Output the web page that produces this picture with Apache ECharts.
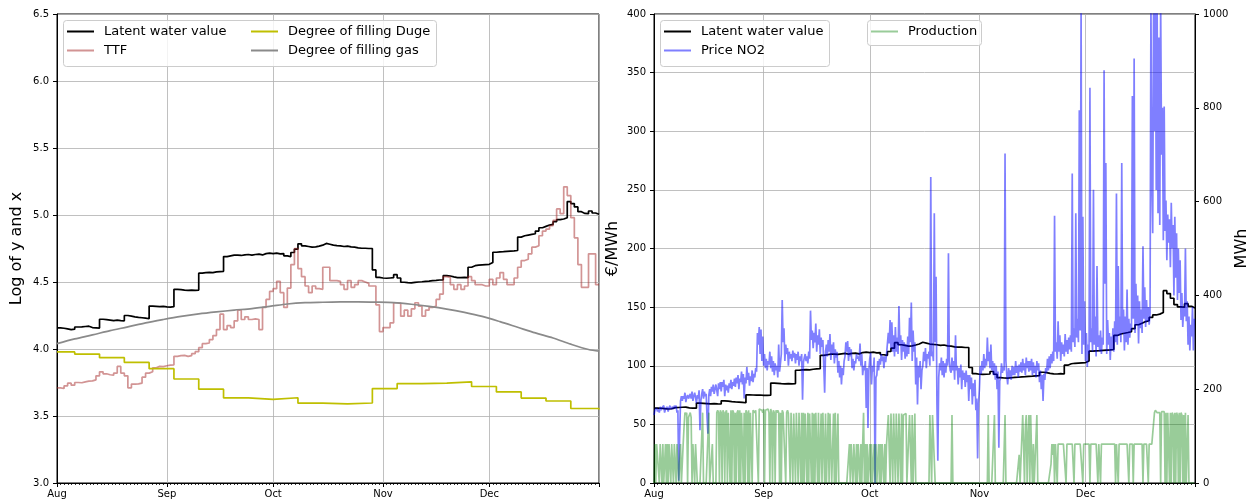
<!DOCTYPE html>
<html>
<head>
<meta charset="utf-8">
<script src="https://cdn.jsdelivr.net/npm/echarts@6/dist/echarts.min.js"></script>
<style>
  html, body { margin: 0; padding: 0; background: #fff; }
  #chart { width: 1253px; height: 503px; }
</style>
</head>
<body>
<div id="chart"></div>
<script>
// Month names used for the time-axis tick labels
const monthNames = ['Jan', 'Feb', 'Mar', 'Apr', 'May', 'Jun', 'Jul', 'Aug', 'Sep', 'Oct', 'Nov', 'Dec'];

// Latent water value, log(€/MWh), one value per day from 1 Aug
const latentLog = [
  4.157, 4.155, 4.150, 4.145, 4.148, 4.164, 4.165, 4.168, 4.170, 4.160, 4.158, 4.156,
  4.222, 4.219, 4.216, 4.212, 4.215, 4.212, 4.210,
  4.250, 4.245, 4.240, 4.236, 4.233, 4.230, 4.226,
  4.320, 4.318, 4.316, 4.318, 4.315, 4.313, 4.316,
  4.445, 4.443, 4.440, 4.438, 4.440, 4.437, 4.440,
  4.566, 4.570, 4.572, 4.570, 4.575, 4.578, 4.580,
  4.690, 4.695, 4.700, 4.700, 4.698, 4.702, 4.705, 4.700, 4.705, 4.708, 4.702, 4.712, 4.715, 4.712,
  4.715, 4.710, 4.712, 4.695, 4.690, 4.720, 4.745,
  4.785, 4.770, 4.765, 4.760, 4.762, 4.768, 4.775, 4.788, 4.782, 4.775, 4.772, 4.770, 4.765, 4.768,
  4.762, 4.760, 4.755, 4.752, 4.752, 4.750, 4.750,
  4.590, 4.535, 4.530, 4.528, 4.530, 4.532, 4.555, 4.530,
  4.498, 4.495, 4.493, 4.497, 4.500, 4.502,
  4.505, 4.507, 4.510, 4.512, 4.515, 4.516,
  4.548, 4.545, 4.538, 4.533, 4.532, 4.535, 4.532,
  4.610, 4.622, 4.626, 4.628, 4.630, 4.632, 4.645,
  4.722, 4.725, 4.726, 4.728, 4.730, 4.732, 4.735,
  4.835, 4.845, 4.850, 4.855, 4.860, 4.880,
  4.905, 4.915, 4.925, 4.930, 4.950, 4.965, 4.970, 4.980,
  5.100, 5.085, 5.060, 5.025, 5.012, 5.010, 5.030, 5.015, 5.005
];

// TTF gas price, log(€/MWh), one value per day from 1 Aug
const ttfLog = [
  3.710, 3.705, 3.725, 3.745, 3.730, 3.750, 3.748, 3.755, 3.760, 3.762,
  3.770, 3.800, 3.830, 3.815, 3.808, 3.805, 3.820, 3.870, 3.820, 3.800,
  3.710, 3.738, 3.740, 3.745, 3.790, 3.820, 3.830, 3.860, 3.870, 3.868,
  3.875, 3.880, 3.882, 3.945, 3.950, 3.952, 3.945, 3.950, 3.965, 3.980,
  4.010, 4.040, 4.045, 4.070, 4.100, 4.145, 4.260, 4.145, 4.175, 4.160,
  4.210, 4.290, 4.220, 4.240, 4.220, 4.225, 4.220, 4.145, 4.310, 4.370,
  4.430, 4.450, 4.505, 4.420, 4.310, 4.455, 4.630, 4.750, 4.600, 4.540,
  4.470, 4.420, 4.470, 4.450, 4.445, 4.610, 4.610, 4.510, 4.510, 4.505,
  4.480, 4.445, 4.510, 4.460, 4.480, 4.510, 4.500, 4.490, 4.470, 4.470,
  4.330, 4.130, 4.160, 4.160, 4.195, 4.345, 4.340, 4.245, 4.290, 4.245,
  4.300, 4.345, 4.320, 4.245, 4.290, 4.310, 4.320, 4.370, 4.410, 4.540,
  4.535, 4.480, 4.445, 4.480, 4.445, 4.470, 4.540, 4.510, 4.480, 4.480,
  4.470, 4.470, 4.520, 4.480, 4.530, 4.570, 4.520, 4.480, 4.480, 4.530,
  4.610, 4.660, 4.670, 4.710, 4.760, 4.770, 4.845, 4.880, 4.895, 4.920,
  4.960, 5.045, 5.010, 5.210, 5.145, 4.980, 4.830, 4.630, 4.460, 4.460,
  4.710, 4.710, 4.480
];

// Degree of filling Duge, log(%), weekly values; day offsets from 1 Aug
const dugeDays = [0, 5, 12, 19, 26, 33, 40, 47, 54, 61, 68, 75, 82, 89, 96, 103, 110, 117, 124, 131, 138, 145];
const dugeLog = [3.978, 3.962, 3.935, 3.900, 3.853, 3.776, 3.700, 3.635, 3.624, 3.636, 3.596, 3.590,
                 3.597, 3.705, 3.742, 3.746, 3.755, 3.720, 3.680, 3.634, 3.612, 3.556];
const dugeLast = 3.548;

// Degree of filling gas storage, log(%); day offsets from 1 Aug
const gasDays = [0, 5, 10, 15, 20, 25, 30, 35, 40, 45, 50, 55, 60, 65, 70, 75, 80, 85, 90, 95,
                 100, 105, 110, 115, 120, 125, 130, 135, 140, 145, 150, 153];
const gasLog = [4.040, 4.075, 4.105, 4.137, 4.165, 4.195, 4.220, 4.243, 4.262, 4.277, 4.290, 4.302,
                4.318, 4.336, 4.346, 4.349, 4.351, 4.352, 4.350, 4.346, 4.334, 4.318, 4.298, 4.273,
                4.243, 4.204, 4.162, 4.120, 4.082, 4.036, 3.996, 3.984];

// Spot price NO2, €/MWh, four readings per day (00, 06, 12, 18h) from 1 Aug
const priceNO2 = [
  // Aug
  58,62,61,64, 61,63,60,65, 62,64,63,66, 60,63,62,65,
  61,64,66,63, 62,65,63,66, 64,66,60,62, 2,40,70,74,
  70,74,72,77, 69,73,75,72, 71,76,72,78, 70,74,77,73,
  68,75,72,79, 45,70,76,80, 72,78,74,76, 56,42,75,80,
  74,82,78,84, 76,80,84,79, 74,85,80,86, 78,86,82,88,
  74,84,79,83, 77,85,81,88, 80,86,83,89, 82,90,85,92,
  80,89,86,95, 84,93,72,90, 85,99,88,94, 83,91,87,96,
  86,93,90,98, 95,128,118,133, 110,131,104,125,
  // Sep
  100,110,98,106, 96,104,101,112, 98,108,95,104, 92,102,96,100,
  90,118,95,102, 110,156,120,132, 104,118,110,115, 100,112,106,110,
  104,113,107,111, 102,110,105,112, 100,108,104,110, 71,103,107,110,
  104,108,102,112, 106,147,122,130, 115,128,120,136, 112,126,118,131,
  110,124,116,122, 100,77,112,118, 108,122,112,127, 105,118,110,120,
  102,114,107,112, 94,104,90,100, 84,98,92,104, 108,120,112,121,
  104,116,108,114, 98,106,96,104, 102,110,106,108, 104,119,100,110,
  92,100,96,104, 64,98,47,96,
  // Oct
  106,111,84,100, 95,107,0,90, 92,104,96,106, 101,110,104,108,
  98,108,103,110, 110,128,119,139, 115,137,112,126, 108,133,112,124,
  110,151,118,126, 105,122,112,120, 106,118,108,125, 110,141,120,154,
  104,130,112,120, 84,107,67,100, 90,104,80,96, 100,112,104,115,
  98,110,106,112, 100,261,108,112, 104,230,120,176, 67,19,90,102,
  96,107,92,104, 90,102,94,106, 100,196,104,96, 94,107,96,104,
  88,126,96,100, 84,98,90,101, 80,96,88,94, 82,96,86,92,
  70,92,80,90, 67,85,74,88, 62,72,21,68,
  // Nov
  80,100,93,104, 96,110,98,106, 100,124,104,112, 98,118,96,104,
  92,102,88,100, 80,95,30,87, 90,102,94,99, 96,281,104,92,
  84,98,90,96, 88,100,92,99, 92,104,94,100, 90,101,95,103,
  94,106,96,102, 92,107,98,104, 95,104,96,106, 92,103,94,100,
  90,104,96,102, 86,96,80,92, 70,93,88,98, 94,106,96,108,
  98,110,102,112, 104,228,112,120, 106,138,112,126, 104,120,110,118,
  108,127,112,122, 110,124,114,126, 112,264,120,132, 116,230,124,140,
  120,318,130,410, 110,227,118,155,
  // Dec
  104,128,99,118, 110,337,120,132, 112,250,118,142, 108,185,116,126,
  112,130,110,124, 118,352,170,273, 110,139,118,128, 105,125,113,132,
  112,138,120,247, 118,185,126,142, 120,273,128,148, 113,142,120,165,
  118,140,124,136, 130,330,140,362, 128,170,135,160, 119,155,132,148,
  128,202,140,167, 133,156,138,150, 135,145,410,260, 213,410,300,410,
  250,410,230,380, 220,410,280,320, 207,321,215,241, 190,229,205,225,
  184,239,200,220, 160,227,175,213, 156,200,162,190, 139,162,133,150,
  142,200,138,155, 118,142,113,135, 125,150,113,140
];

// Production, MWh, four readings per day (00, 06, 12, 18h) from 1 Aug
const production = [
  // Aug
  0,83,0,83, 83,83,0,83, 83,0,83,0, 0,83,0,83,
  0,83,83,0, 83,83,0,83, 83,0,83,83, 0,0,83,0,
  0,83,120,150, 145,150,0,140, 145,150,140,0, 83,83,0,83,
  83,0,0,0, 0,0,0,150, 0,0,0,0, 0,0,150,0,
  0,0,83,0, 0,0,0,150, 155,150,0,155, 150,0,155,150,
  0,150,155,0, 150,150,0,155, 0,155,150,0, 150,0,150,155,
  0,155,0,150, 150,0,150,0, 155,150,0,155, 0,150,150,0,
  155,158,150,155, 158,155,0,158, 155,158,155,150,
  // Sep
  158,0,155,158, 155,158,150,0, 158,150,0,155, 150,0,155,150,
  155,150,0,150, 0,155,150,148, 150,0,150,155, 148,150,0,150,
  150,0,148,150, 0,150,150,0, 150,148,0,150, 0,150,0,148,
  150,0,150,0, 148,150,0,150, 0,148,0,150, 150,0,150,0,
  0,148,0,150, 150,0,148,0, 0,150,0,148, 150,0,0,148,
  0,150,0,0, 148,0,0,0, 0,0,0,0, 0,0,0,0,
  0,83,0,83, 83,0,83,83, 0,83,0,83, 83,0,83,0,
  83,150,0,83, 0,83,0,0,
  // Oct
  83,0,83,0, 0,83,0,83, 0,0,83,0, 83,0,83,83,
  0,83,0,83, 83,145,148,0, 148,145,0,148, 145,0,148,145,
  0,148,145,0, 148,0,145,148, 145,148,0,0, 0,145,148,0,
  145,0,0,148, 0,0,0,0, 0,0,0,0, 0,0,0,0,
  0,0,0,0, 145,148,0,145, 148,145,0,0, 0,0,0,0,
  0,0,0,0, 0,0,0,0, 0,0,0,0, 0,145,0,0,
  0,0,0,0, 0,0,0,0, 0,0,0,0, 0,0,0,0,
  0,0,0,0, 0,0,0,0, 0,0,0,0,
  // Nov
  0,0,0,0, 0,0,0,0, 0,0,145,0, 0,0,0,0,
  0,145,0,0, 0,0,0,0, 0,0,0,0, 0,145,0,0,
  0,0,0,0, 0,0,0,0, 0,0,0,0, 0,60,0,0,
  0,145,80,0, 120,145,0,100, 145,0,145,60, 0,83,0,0,
  0,145,0,0, 0,0,0,0, 0,0,0,0, 0,0,0,0,
  0,40,83,60, 83,0,83,83, 0,83,83,83, 83,83,83,83,
  83,83,0,83, 83,83,83,83, 83,83,83,0, 83,83,83,83,
  83,83,83,83, 83,0,83,83,
  // Dec
  83,83,83,83, 83,0,83,83, 83,83,83,83, 83,83,0,83,
  83,0,83,83, 83,83,83,83, 83,83,83,83, 83,83,83,83,
  83,83,0,83, 83,0,83,83, 83,83,83,83, 83,83,83,83,
  83,0,83,83, 83,83,0,83, 83,83,83,83, 83,83,83,83,
  83,0,83,83, 83,83,83,0, 83,83,83,83, 83,83,150,155,
  152,150,152,150, 150,0,152,150, 150,152,0,150, 0,150,152,0,
  150,0,150,145, 0,150,0,150, 145,0,150,0, 150,145,0,145,
  0,150,0,0, 145,0,0,0, 0,0,0,0
];

// ---- time helpers ----
const tStart = new Date(2021, 7, 1).getTime();
const tEnd = new Date(2021, 11, 31, 23).getTime();
const at = (day, hour) => new Date(2021, 7, 1 + day, hour || 0).getTime();

// daily step values: each value holds for its whole day
function dailySteps(vals) {
  const pts = vals.map((v, i) => [at(i), v]);
  pts.push([tEnd, vals[vals.length - 1]]);
  return pts;
}
function dayPoints(days, vals) {
  return days.map((d, i) => [at(d), vals[i]]);
}
function sixHourly(vals) {
  return vals.map((v, i) => [at(Math.floor(i / 4), (i % 4) * 6), v]);
}

const FONT = 'DejaVu Sans';
const GRID_COLOR = '#b0b0b0';
const LW = 1.7;

const C_LATENT = '#000000';
const C_TTF = 'rgba(165,42,42,0.5)';
const C_DUGE = '#bfbf00';
const C_GAS = '#8a8a8a';
const C_PRICE = 'rgba(0,0,255,0.5)';
const C_PROD = 'rgba(0,128,0,0.4)';

function lineSeries(name, color, data, xi, yi, extra) {
  return Object.assign({
    name, type: 'line', data,
    xAxisIndex: xi, yAxisIndex: yi,
    symbol: 'none', showSymbol: false,
    lineStyle: { color, width: LW },
    itemStyle: { color },
    emphasis: { disabled: true },
    animation: false
  }, extra || {});
}

function timeAxis(gridIndex) {
  return {
    type: 'time', gridIndex,
    min: tStart, max: tEnd,
    splitNumber: 5,
    minInterval: 28 * 864e5,
    maxInterval: 31 * 864e5,
    axisLine: { show: true, lineStyle: { color: '#000', width: 1 } },
    axisTick: { show: true, length: 4, lineStyle: { color: '#000', width: 1 } },
    minorTick: { show: true, splitNumber: 30, length: 2, lineStyle: { color: '#000', width: 0.8 } },
    axisLabel: {
      fontFamily: FONT, fontSize: 10, color: '#000', margin: 6,
      showMaxLabel: false,
      formatter: (v) => monthNames[new Date(v).getMonth()]
    },
    splitLine: { show: true, lineStyle: { color: GRID_COLOR, width: 0.8 } }
  };
}

function valueAxis(gridIndex, min, max, interval, name, nameGap, labelFmt, opts) {
  return Object.assign({
    type: 'value', gridIndex, min, max, interval,
    name, nameLocation: 'middle', nameGap,
    nameTextStyle: { fontFamily: FONT, fontSize: 16, color: '#000' },
    axisLine: { show: true, lineStyle: { color: '#000', width: 1 } },
    axisTick: { show: true, length: 4, lineStyle: { color: '#000', width: 1 } },
    axisLabel: { fontFamily: FONT, fontSize: 10, color: '#000', margin: 8, formatter: labelFmt },
    splitLine: { show: true, lineStyle: { color: GRID_COLOR, width: 0.8 } }
  }, opts || {});
}

function legendBlock(names, left, top) {
  return {
    data: names, orient: 'vertical', left, top,
    padding: 0, itemGap: 6,
    icon: 'rect', itemWidth: 27, itemHeight: 2,
    selectedMode: false, z: 20,
    textStyle: { fontFamily: FONT, fontSize: 13, color: '#000', padding: [0, 0, 0, 5] }
  };
}

function frame(x, y, w, h) {
  return {
    type: 'rect', z: 10,
    shape: { x: x + 0.5, y: y + 0.5, width: w, height: h, r: 3 },
    style: { fill: 'rgba(255,255,255,0.8)', stroke: '#cccccc', lineWidth: 1 }
  };
}

const chart = echarts.init(document.getElementById('chart'), null, { renderer: 'canvas' });

chart.setOption({
  animation: false,
  backgroundColor: '#ffffff',
  grid: [
    { left: 57, top: 14, width: 542, height: 469, show: true, borderColor: '#000', borderWidth: 1, backgroundColor: 'transparent' },
    { left: 654, top: 14, width: 541, height: 469, show: true, borderColor: '#000', borderWidth: 1, backgroundColor: 'transparent' }
  ],
  xAxis: [timeAxis(0), timeAxis(1)],
  yAxis: [
    valueAxis(0, 3, 6.5, 0.5, 'Log of y and x', 32, (v) => v.toFixed(1)),
    valueAxis(1, 0, 400, 50, '€/MWh', 33, (v) => String(v)),
    valueAxis(1, 0, 1000, 200, 'MWh', 39, (v) => String(v), { position: 'right', splitLine: { show: false } })
  ],
  legend: [
    legendBlock(['Latent water value', 'TTF'], 67, 25),
    legendBlock(['Degree of filling Duge', 'Degree of filling gas'], 251, 25),
    legendBlock(['Latent water value', 'Price NO2'], 664, 25),
    legendBlock(['Production'], 871, 25)
  ],
  graphic: [
    frame(63, 20, 373, 46),
    frame(660, 20, 169, 46),
    frame(867, 20, 114, 25)
  ],
  series: [
    lineSeries('Latent water value', C_LATENT, dailySteps(latentLog), 0, 0, { step: 'end' }),
    lineSeries('TTF', C_TTF, dailySteps(ttfLog), 0, 0, { step: 'end' }),
    lineSeries('Degree of filling Duge', C_DUGE,
      dayPoints(dugeDays, dugeLog).concat([[tEnd, dugeLast]]), 0, 0, { step: 'end' }),
    lineSeries('Degree of filling gas', C_GAS, dayPoints(gasDays, gasLog), 0, 0, { smooth: 0.3 }),

    lineSeries('Latent water value', C_LATENT, dailySteps(latentLog.map(Math.exp)), 1, 1, { step: 'end' }),
    lineSeries('Price NO2', C_PRICE, sixHourly(priceNO2), 1, 1),
    lineSeries('Production', C_PROD, sixHourly(production), 1, 2)
  ]
});
</script>
</body>
</html>
